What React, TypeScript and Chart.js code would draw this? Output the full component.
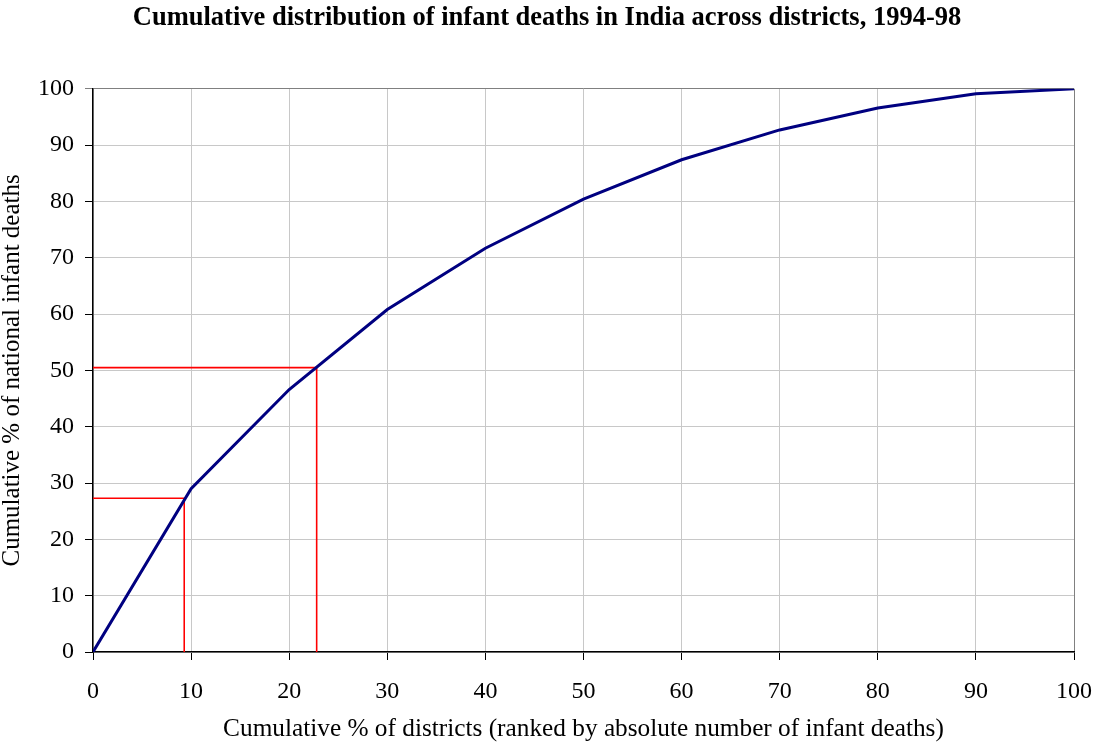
import React, { useEffect, useRef } from "react";
import { Chart, registerables } from "chart.js";

Chart.register(...registerables);

const districtPct = [0, 10, 20, 30, 40, 50, 60, 70, 80, 90, 100];
const cumDeathsPct = [0, 29.0, 46.6, 60.8, 71.7, 80.4, 87.4, 92.7, 96.6, 99.1, 100];

const marker1X = [0, 9.3, 9.3];
const marker1Y = [27.3, 27.3, 0];
const marker2X = [0, 22.8, 22.8];
const marker2Y = [50.5, 50.5, 0];

const titleText = "Cumulative distribution of infant deaths in India across districts, 1994-98";
const xTitle = "Cumulative % of districts (ranked by absolute number of infant deaths)";
const yTitle = "Cumulative % of national infant deaths";

const FONT = "'Liberation Serif', 'Times New Roman', serif";

export default function App() {
  const ref = useRef<HTMLCanvasElement | null>(null);

  useEffect(() => {
    document.body.style.margin = "0";
    const canvas = ref.current;
    if (!canvas) return;
    const pts = (xs: number[], ys: number[]) => xs.map((x, i) => ({ x, y: ys[i] }));
    const chart = new Chart(canvas, {
      type: "line",
      data: {
        datasets: [
          {
            data: pts(districtPct, cumDeathsPct),
            borderColor: "#000080",
            borderWidth: 3,
            pointRadius: 0,
            tension: 0,
            order: 0,
          },
          {
            data: pts(marker1X, marker1Y),
            borderColor: "#ff0000",
            borderWidth: 1.6,
            pointRadius: 0,
            tension: 0,
            order: 1,
          },
          {
            data: pts(marker2X, marker2Y),
            borderColor: "#ff0000",
            borderWidth: 1.6,
            pointRadius: 0,
            tension: 0,
            order: 1,
          },
        ],
      },
      options: {
        animation: false,
        responsive: false,
        maintainAspectRatio: false,
        layout: { padding: { left: 0, right: 0, top: 0, bottom: 0 } },
        plugins: {
          legend: { display: false },
          tooltip: { enabled: false },
          title: {
            display: true,
            text: titleText,
            color: "#000",
            font: { family: FONT, size: 26.5, weight: "bold", lineHeight: 1.2 },
            padding: { top: 2, bottom: 55 },
          },
        },
        scales: {
          x: {
            type: "linear",
            min: 0,
            max: 100,
            ticks: {
              stepSize: 10,
              color: "#000",
              font: { family: FONT, size: 24 },
              padding: 17,
              maxRotation: 0,
            },
            grid: {
              color: (ctx: any) => (ctx.tick && ctx.tick.value === 100 ? "#808080" : "#c8c8c8"),
              tickLength: 8,
              tickColor: "#000",
              lineWidth: 1,
            },
            border: { color: "#000", width: 1.5 },
            title: {
              display: true,
              text: xTitle,
              color: "#000",
              font: { family: FONT, size: 25.3, lineHeight: 1.2 },
              padding: { top: 0, bottom: 0 },
            },
            afterFit: (scale: any) => {
              scale.height = 93;
              scale.paddingRight = 20;
              scale.paddingLeft = 0;
            },
          },
          y: {
            type: "linear",
            min: 0,
            max: 100,
            ticks: {
              stepSize: 10,
              color: "#000",
              font: { family: FONT, size: 24 },
              padding: 11,
            },
            grid: {
              color: (ctx: any) => (ctx.tick && ctx.tick.value === 100 ? "#808080" : "#c8c8c8"),
              tickLength: 8,
              tickColor: (ctx: any) => (ctx.tick && ctx.tick.value === 100 ? "#808080" : "#000"),
              lineWidth: 1,
            },
            border: { color: "#000", width: 1.5 },
            title: {
              display: true,
              text: yTitle,
              color: "#000",
              font: { family: FONT, size: 25, lineHeight: 1.0 },
              padding: { top: 0, bottom: 0 },
            },
            afterFit: (scale: any) => {
              scale.width = 93;
            },
          },
        },
      },
    });
    return () => chart.destroy();
  }, []);

  return (
    <div style={{ width: 1094, height: 745 }}>
      <canvas ref={ref} width={1094} height={745} style={{ display: "block" }} />
    </div>
  );
}
